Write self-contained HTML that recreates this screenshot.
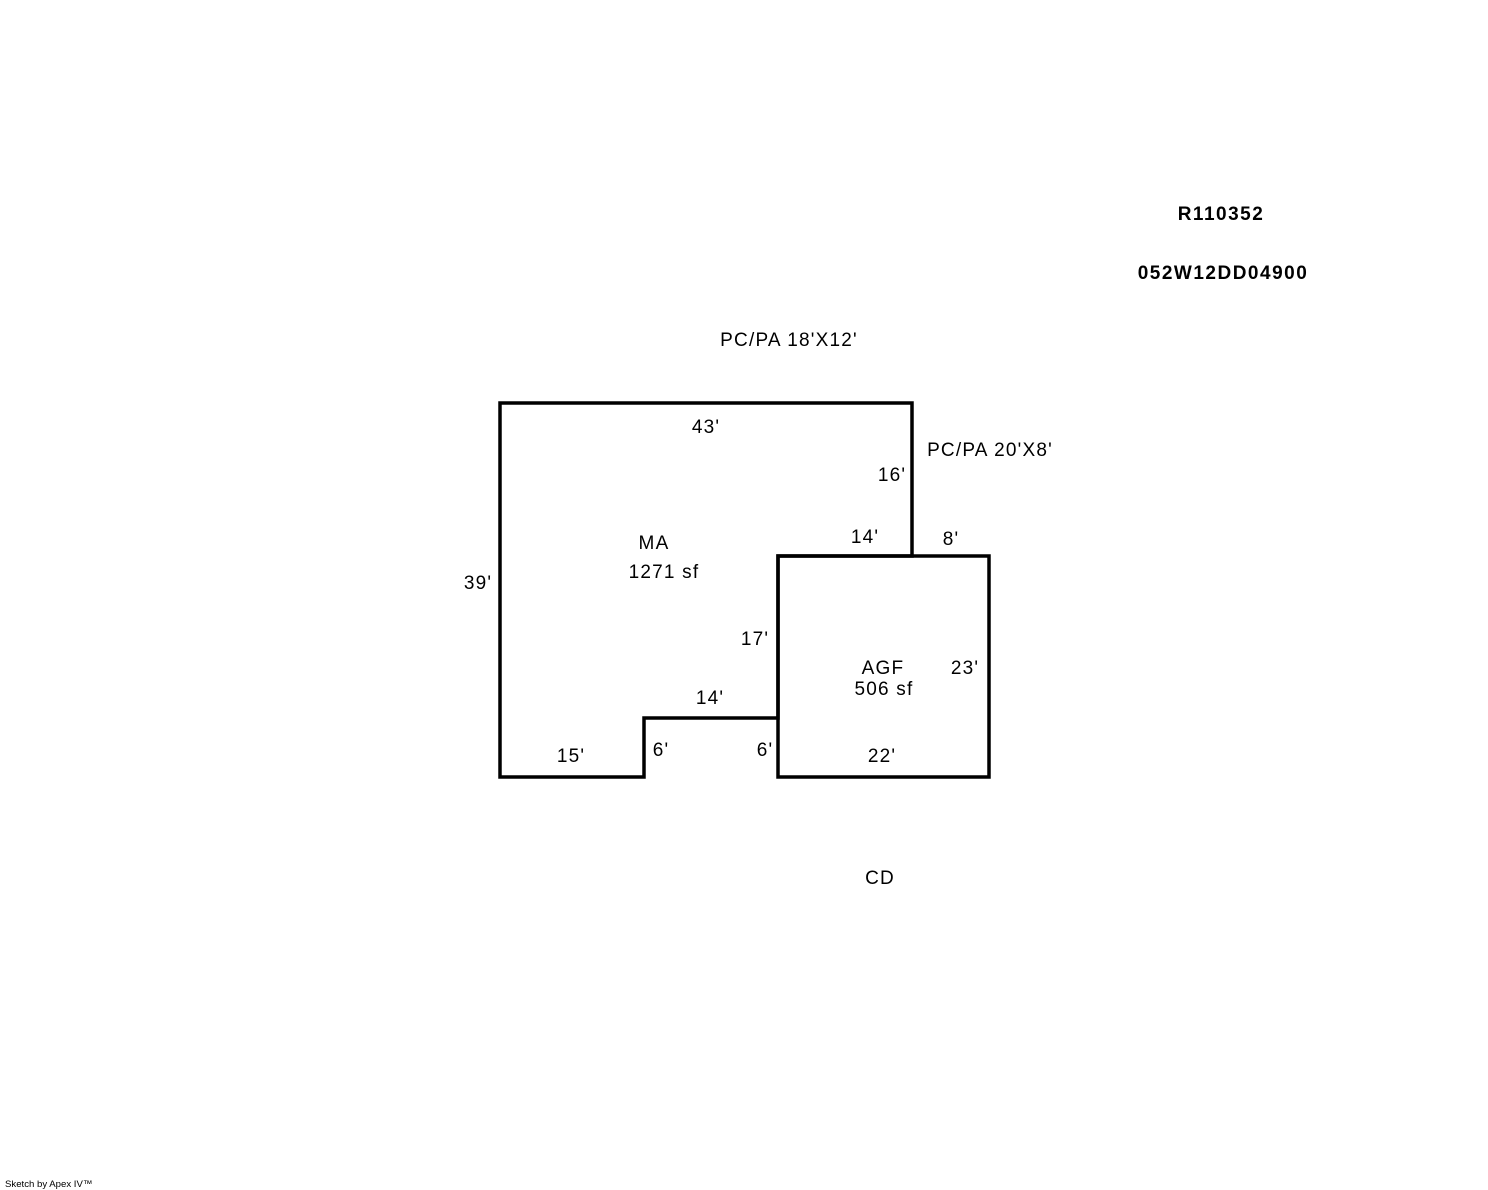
<!DOCTYPE html>
<html><head><meta charset="utf-8"><style>
html,body{margin:0;padding:0;background:#fff;}
svg{display:block;}
text{font-family:"Liberation Sans",Arial,sans-serif;font-size:19px;letter-spacing:1.2px;fill:#000;}
</style></head><body>
<svg width="1488" height="1190" viewBox="0 0 1488 1190" xmlns="http://www.w3.org/2000/svg">
<rect width="1488" height="1190" fill="#fff"/>
<g fill="none" stroke="#000" stroke-width="3.5" stroke-linejoin="miter" stroke-linecap="square">
<polygon points="500,403 912,403 912,556 778,556 778,718 644,718 644,777 500,777"/>
<rect x="778" y="556" width="211" height="221"/>
</g>
<g text-anchor="middle">
<text x="1221" y="220" font-weight="bold" style="letter-spacing:1.5px">R110352</text>
<text x="1223" y="279" font-weight="bold" style="letter-spacing:1.5px">052W12DD04900</text>
<text x="789" y="346">PC/PA 18'X12'</text>
<text x="706" y="433">43'</text>
<text x="990" y="456">PC/PA 20'X8'</text>
<text x="892" y="481">16'</text>
<text x="865" y="543">14'</text>
<text x="951" y="545">8'</text>
<text x="654" y="549">MA</text>
<text x="664" y="578">1271 sf</text>
<text x="478" y="589">39'</text>
<text x="755" y="645">17'</text>
<text x="883" y="674">AGF</text>
<text x="965" y="674">23'</text>
<text x="884" y="695">506 sf</text>
<text x="710" y="704">14'</text>
<text x="571" y="762">15'</text>
<text x="661" y="756">6'</text>
<text x="765" y="756">6'</text>
<text x="882" y="762">22'</text>
<text x="880" y="884">CD</text>
</g>
<text x="5" y="1187" style="font-size:9.6px;letter-spacing:0">Sketch by Apex IV™</text>
</svg>
</body></html>
